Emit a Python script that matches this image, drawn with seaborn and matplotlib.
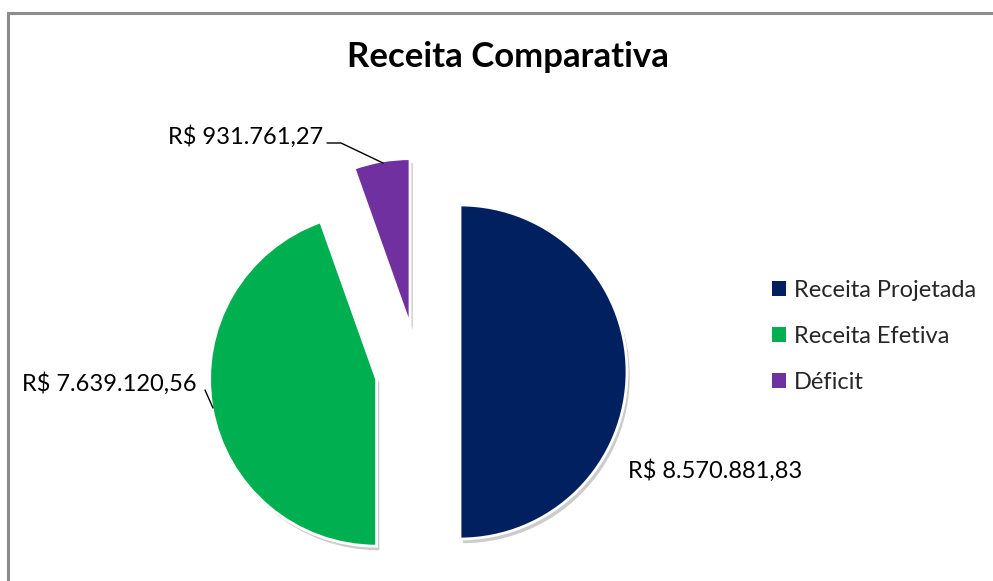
import matplotlib
matplotlib.use("Agg")
import matplotlib.pyplot as plt
import matplotlib.patheffects as pe
import seaborn as sns
from matplotlib.patches import Rectangle, Patch

sns.set_theme(style="white")
plt.rcParams['font.family'] = ['Lato', 'DejaVu Sans']

categories = ["Receita Projetada", "Receita Efetiva", "Déficit"]
values = [8570881.83, 7639120.56, 931761.27]
value_labels = ["R$ 8.570.881,83", "R$ 7.639.120,56", "R$ 931.761,27"]
colors = ["#002060", "#00B050", "#7030A0"]

W, H = 993, 581
fig = plt.figure(figsize=(W / 100, H / 100), dpi=100)
ax = fig.add_axes([0, 0, 1, 1])

cx, cy, r = 418, H - 372, 167
wedges, _ = ax.pie(values, colors=colors, startangle=90, counterclock=False,
                   center=(cx, cy), radius=r, explode=[42, 42, 47],
                   wedgeprops=dict(edgecolor="white", linewidth=2.0),
                   frame=True)
for w in wedges:
    w.set_path_effects([pe.SimplePatchShadow(offset=(2, -3), shadow_rgbFace="#000000", alpha=0.2),
                        pe.Normal()])
ax.set_xlim(0, W)
ax.set_ylim(0, H)
ax.set_aspect("equal")
ax.axis("off")

# border
ax.add_patch(Rectangle((8, -5), W, H - 13 + 5, fill=False, edgecolor="#8c8c8c", linewidth=2.2))

fig.text(508 / W, 1 - 57 / H, "Receita Comparativa", ha="center", va="center",
         fontsize=25, fontweight="bold", color="black")

fs = 17
ax.text(628, H - 471, value_labels[0], ha="left", va="center", fontsize=fs, color="black")
ax.text(22, H - 384, value_labels[1], ha="left", va="center", fontsize=fs, color="black")
ax.text(168, H - 137, value_labels[2], ha="left", va="center", fontsize=fs, color="black")
ax.plot([327, 341, 383], [H - 143, H - 143, H - 163], color="black", lw=1)
ax.plot([205, 213], [H - 390, H - 408], color="black", lw=1)

handles = [Patch(facecolor=c, edgecolor="none") for c in colors]
fig.legend(handles, categories, loc="upper left", bbox_to_anchor=(751 / W, 1 - 259 / H),
           frameon=False, fontsize=17, handlelength=0.6, handleheight=0.6,
           handletextpad=0.3, labelspacing=1.05)

fig.savefig("out.png", dpi=100)
